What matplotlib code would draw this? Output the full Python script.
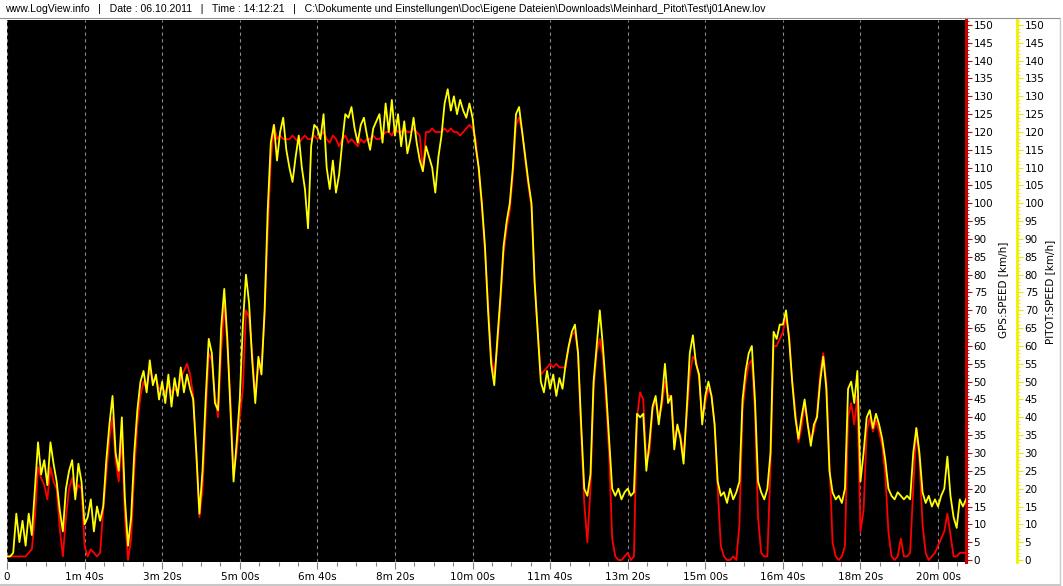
import numpy as np
import matplotlib
matplotlib.use("Agg")
import matplotlib.pyplot as plt
from matplotlib.lines import Line2D
from matplotlib.ticker import MultipleLocator

# ---------------- data (sampled every 4 s) ----------------
SAMPLE_STEP_S = 4

gps_speed = [
    1, 1, 1, 1, 1, 1, 1, 2, 3, 12,
    26, 23, 21, 17, 26, 22, 20, 9, 1, 12,
    20, 23, 18, 21, 20, 4, 1, 3, 2, 1,
    2, 14, 24, 34, 40, 28, 22, 35, 12, 0,
    6, 25, 38, 46, 50, 48, 54, 50, 51, 48,
    48, 47, 49, 47, 48, 47, 51, 53, 55, 52,
    46, 30, 12, 20, 40, 58, 56, 46, 40, 58,
    72, 60, 45, 24, 30, 40, 48, 70, 68, 58,
    46, 54, 55, 68, 92, 112, 122, 118, 119, 118,
    118, 118, 119, 118, 117, 118, 119, 118, 118, 119,
    118, 119, 120, 118, 117, 119, 118, 116, 118, 119,
    117, 118, 117, 116, 118, 117, 118, 118, 119, 118,
    118, 119, 120, 120, 119, 121, 120, 120, 121, 120,
    120, 121, 120, 119, 109, 120, 120, 121, 120, 120,
    120, 121, 120, 121, 120, 120, 119, 120, 121, 122,
    121, 118, 109, 99, 87, 72, 57, 52, 60, 72,
    86, 93, 98, 108, 122, 124, 120, 112, 105, 99,
    78, 64, 52, 53, 54, 55, 54, 55, 54, 54,
    54, 60, 63, 64, 58, 36, 16, 5, 20, 48,
    58, 62, 57, 45, 30, 6, 1, 0, 0, 1,
    2, 0, 1, 40, 47, 45, 28, 30, 42, 45,
    40, 43, 50, 46, 46, 34, 37, 35, 29, 40,
    52, 57, 56, 51, 40, 44, 48, 46, 38, 20,
    4, 1, 0, 0, 1, 0, 10, 42, 50, 55,
    56, 42, 12, 2, 1, 1, 26, 60, 60, 62,
    64, 68, 63, 50, 42, 33, 37, 44, 38, 34,
    36, 41, 52, 58, 50, 28, 5, 1, 0, 1,
    4, 40, 44, 38, 46, 8, 14, 36, 40, 36,
    39, 36, 32, 24, 8, 1, 0, 1, 6, 1,
    1, 2, 20, 37, 28, 10, 2, 0, 1, 2,
    4, 6, 8, 13, 7, 1, 1, 2, 2, 2,
]

pitot_speed = [
    1, 1, 2, 13, 5, 11, 4, 13, 7, 20,
    33, 24, 28, 21, 33, 27, 22, 14, 8, 20,
    25, 28, 17, 27, 22, 10, 12, 17, 8, 15,
    11, 15, 28, 38, 46, 30, 25, 40, 17, 4,
    12, 30, 42, 50, 53, 47, 56, 49, 52, 45,
    50, 44, 52, 43, 51, 46, 54, 47, 52, 48,
    45, 30, 13, 25, 45, 62, 58, 44, 42, 65,
    76, 62, 42, 22, 33, 45, 66, 80, 72, 56,
    44, 57, 52, 70, 98, 117, 122, 112, 120, 124,
    115, 110, 106, 113, 119, 110, 104, 93, 116, 122,
    121, 118, 125, 110, 104, 112, 103, 108, 117, 125,
    124, 127, 121, 117, 122, 124, 119, 115, 121, 123,
    125, 117, 128, 120, 129, 119, 125, 116, 123, 114,
    118, 124, 117, 112, 109, 116, 113, 110, 103, 113,
    119, 128, 132, 126, 130, 125, 129, 126, 124, 128,
    124, 116, 110, 100, 88, 70, 55, 49, 62, 74,
    88, 95, 100, 110, 125, 127, 120, 113, 106, 100,
    78, 64, 50, 47, 53, 48, 52, 46, 51, 48,
    55, 60, 64, 66, 58, 38, 20, 18, 24, 50,
    60, 70, 60, 48, 34, 20, 18, 20, 17, 19,
    20, 18, 19, 41, 40, 41, 25, 33, 43, 46,
    38, 45, 55, 44, 46, 31, 38, 34, 27, 42,
    58, 63, 55, 52, 38, 46, 50, 46, 38, 22,
    18, 19, 16, 20, 17, 19, 22, 45, 53, 58,
    60, 45, 22, 19, 17, 20, 30, 64, 62, 66,
    66, 70, 62, 50, 40, 34, 40, 45, 38, 32,
    38, 40, 50, 57, 48, 25, 19, 17, 18, 16,
    20, 48, 50, 44, 53, 22, 30, 40, 42, 37,
    41, 38, 34, 28, 20, 18, 17, 19, 18, 17,
    18, 17, 30, 37, 30, 19, 16, 18, 15, 17,
    15, 18, 20, 29, 18, 12, 9, 17, 15, 17,
]

x_tick_seconds = [0, 100, 200, 300, 400, 500, 600, 700, 800, 900, 1000, 1100, 1200]
x_tick_labels = ["0", "1m 40s", "3m 20s", "5m 00s", "6m 40s", "8m 20s", "10m 00s",
                 "11m 40s", "13m 20s", "15m 00s", "16m 40s", "18m 20s", "20m 00s"]

title_text = ("www.LogView.info   |   Date : 06.10.2011   |   Time : 14:12:21   |   "
              "C:\\Dokumente und Einstellungen\\Doc\\Eigene Dateien\\Downloads\\"
              "Meinhard_Pitot\\Test\\j01Anew.lov")

t = np.arange(len(gps_speed)) * SAMPLE_STEP_S

# ---------------- figure ----------------
W, H = 1063, 586
fig = plt.figure(figsize=(W / 100, H / 100), dpi=100)
fig.patch.set_facecolor("white")

left_px, right_px, top_px, bottom_px = 7, 966, 20, 562
rect = [left_px / W, 1 - bottom_px / H, (right_px - left_px) / W, (bottom_px - top_px) / H]
ax = fig.add_axes(rect)
ax.set_facecolor("black")

ylo, yhi = -0.56, 151.4
ax.plot(t, gps_speed, color="#FF0000", lw=1.3, zorder=3)
ax.set_xlim(0, 1236)
ax.set_ylim(ylo, yhi)

# x axis
ax.set_xticks(x_tick_seconds)
ax.set_xticklabels(x_tick_labels)
ax.xaxis.set_minor_locator(MultipleLocator(25))
ax.tick_params(axis="x", which="major", direction="out", length=5, width=0.8,
               color="#808080", labelsize=7.5, pad=2)
ax.tick_params(axis="x", which="minor", direction="out", length=3, width=0.8, color="#808080")
ax.grid(axis="x", which="major", color="#8a8a8a", linestyle=(0, (3, 3)), lw=0.8)
ax.set_axisbelow(True)

# GPS (red) axis on the right
ax.set_yticks(range(0, 151, 5))
ax.yaxis.set_minor_locator(MultipleLocator(1))
for s in ["left", "top", "bottom"]:
    ax.spines[s].set_visible(False)
ax.spines["right"].set_color("#C80000")
ax.spines["right"].set_linewidth(2.2)

# PITOT (yellow) axis: separate overlay axes, spine moved outward
ax2 = fig.add_axes(rect, sharex=ax)
ax2.patch.set_visible(False)
ax2.plot(t, pitot_speed, color="#FFFF00", lw=1.3, zorder=3)
ax2.set_ylim(ylo, yhi)
for s in ["left", "top", "bottom"]:
    ax2.spines[s].set_visible(False)
ax2.spines["right"].set_position(("axes", (1017 - left_px) / (right_px - left_px)))
ax2.spines["right"].set_color("#F0F000")
ax2.spines["right"].set_linewidth(2.0)
ax2.yaxis.set_ticks_position("right")
ax2.set_yticks(range(0, 151, 5))
ax2.yaxis.set_minor_locator(MultipleLocator(1))
ax2.tick_params(axis="x", which="both", bottom=False, labelbottom=False)
ax2.tick_params(axis="y", which="major", direction="out", length=4, width=0.8,
                color="#E8E800", labelsize=7.5, pad=1.5, left=False, labelleft=False,
                right=True, labelright=True)
ax2.tick_params(axis="y", which="minor", direction="out", length=2, width=0.6,
                color="#E8E800", left=False, right=True)

ax.yaxis.set_ticks_position("right")
ax.tick_params(axis="y", which="major", direction="out", length=4, width=0.8,
               color="#D00000", labelsize=7.5, pad=1.5, left=False, labelleft=False,
               right=True, labelright=True)
ax.tick_params(axis="y", which="minor", direction="out", length=2, width=0.6,
               color="#D00000", left=False, right=True)

# axis titles
fig.text(1003 / W, 1 - 290 / H, "GPS:SPEED [km/h]", rotation=90, fontsize=7.5,
         ha="center", va="center")
fig.text(1050 / W, 1 - 292 / H, "PITOT:SPEED [km/h]", rotation=90, fontsize=7.5,
         ha="center", va="center")

# header text
fig.text(5 / W, 1 - 9 / H, title_text, fontsize=7.6, family="Liberation Sans",
         ha="left", va="center")

# frame lines
fig.add_artist(Line2D([0, 1059 / W], [1 - 17.5 / H] * 2, transform=fig.transFigure,
                      color="#909090", lw=0.8))
fig.add_artist(Line2D([1059.5 / W] * 2, [1 - 17.5 / H, 1 - 585 / H], transform=fig.transFigure,
                      color="#C8C8C8", lw=1.0))
fig.add_artist(Line2D([0, 1060 / W], [1 - 584.5 / H] * 2, transform=fig.transFigure,
                      color="#C8C8C8", lw=1.5))

fig.savefig("out.png", dpi=100, facecolor="white")
